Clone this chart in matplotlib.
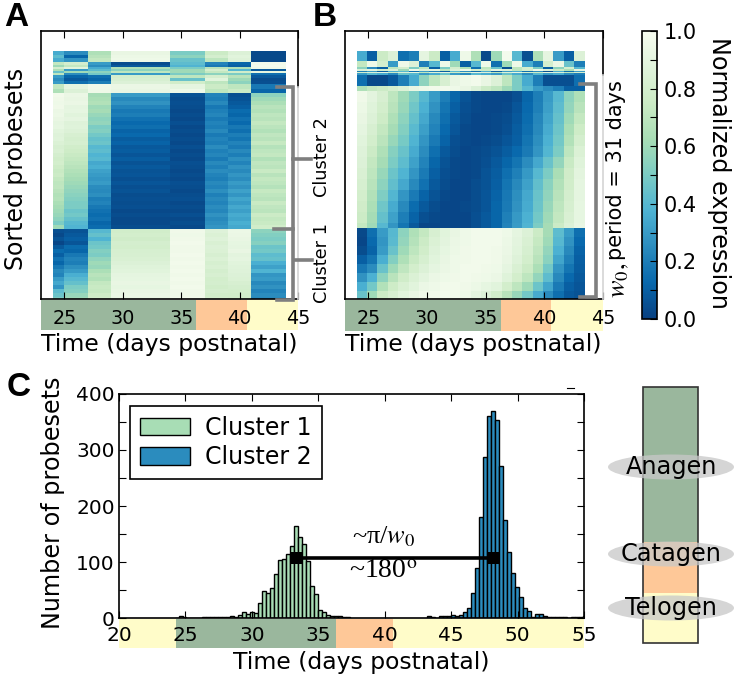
import numpy as np
import matplotlib
matplotlib.use('Agg')
import matplotlib.pyplot as plt
from matplotlib.patches import Ellipse, Rectangle

plt.rcParams['font.family'] = 'DejaVu Sans'
plt.rcParams['mathtext.fontset'] = 'stix'

W, H = 738, 682

# ---- heatmap A: 8 sampled time points, expression in percent
a_edges = [24, 25, 27, 29, 34, 37, 39, 41, 44]
a_heights = [4, 3, 4, 3, 2, 2, 2, 2, 2, 3, 3, 3, 5, 4] + [4] * 34 + [4] * 18
a_rows = [
    [35, 25, 65, 92, 50, 75, 85, 3],
    [42, 12, 68, 94, 55, 80, 88, 3],
    [35, 28, 72, 95, 45, 70, 86, 3],
    [72, 80, 30, 4, 42, 22, 12, 97],
    [60, 72, 25, 8, 38, 18, 10, 98],
    [80, 88, 35, 65, 50, 68, 65, 96],
    [65, 30, 42, 55, 60, 80, 40, 8],
    [45, 60, 55, 70, 60, 72, 78, 90],
    [70, 25, 48, 30, 50, 55, 50, 15],
    [30, 12, 15, 80, 70, 80, 68, 8],
    [25, 8, 12, 82, 45, 88, 60, 4],
    [30, 15, 20, 85, 78, 70, 55, 5],
    [72, 90, 96, 93, 90, 75, 70, 18],
    [65, 85, 95, 92, 95, 70, 75, 12],
    # cluster 2
    [97, 93, 62, 30, 6, 22, 5, 55],
    [96, 92, 64, 24, 4, 20, 6, 60],
    [95, 93, 66, 27, 5, 24, 8, 64],
    [96, 90, 60, 22, 4, 18, 10, 68],
    [93, 91, 62, 18, 3, 21, 14, 66],
    [94, 88, 58, 20, 4, 23, 12, 70],
    [92, 90, 55, 16, 3, 19, 16, 68],
    [90, 86, 57, 13, 5, 22, 13, 72],
    [91, 87, 50, 15, 3, 20, 18, 69],
    [88, 85, 52, 11, 4, 24, 15, 66],
    [86, 82, 48, 13, 3, 19, 20, 71],
    [87, 80, 44, 9, 4, 22, 17, 68],
    [84, 81, 46, 11, 3, 20, 22, 73],
    [82, 78, 40, 8, 5, 25, 19, 67],
    [83, 76, 42, 9, 3, 21, 24, 70],
    [80, 74, 38, 7, 4, 23, 20, 72],
    [78, 72, 40, 9, 3, 19, 26, 66],
    [79, 70, 34, 6, 5, 24, 22, 71],
    [76, 68, 36, 8, 4, 21, 27, 69],
    [74, 66, 32, 6, 3, 25, 24, 74],
    [75, 64, 30, 7, 4, 22, 28, 68],
    [72, 62, 28, 5, 3, 20, 25, 72],
    [70, 60, 30, 7, 5, 24, 30, 70],
    [71, 58, 25, 5, 4, 22, 27, 67],
    [68, 56, 24, 6, 3, 26, 32, 73],
    [66, 54, 26, 4, 4, 21, 28, 70],
    [67, 52, 20, 5, 5, 24, 33, 68],
    [64, 50, 22, 4, 3, 22, 30, 74],
    [62, 50, 18, 5, 4, 25, 34, 71],
    [60, 46, 16, 3, 3, 23, 31, 69],
    [58, 48, 14, 4, 5, 27, 35, 75],
    [55, 44, 16, 3, 3, 24, 33, 72],
    [50, 40, 12, 3, 4, 26, 36, 74],
    [60, 38, 14, 4, 3, 28, 34, 78],
    # cluster 1
    [5, 6, 40, 78, 96, 86, 94, 55],
    [3, 8, 44, 79, 95, 84, 93, 52],
    [6, 10, 38, 77, 96, 86, 92, 50],
    [2, 7, 46, 80, 97, 83, 91, 53],
    [8, 14, 48, 79, 96, 85, 90, 46],
    [14, 12, 52, 81, 96, 84, 92, 48],
    [10, 18, 50, 82, 97, 82, 89, 42],
    [16, 22, 56, 83, 96, 84, 90, 44],
    [12, 20, 60, 85, 97, 81, 88, 36],
    [18, 26, 58, 87, 96, 83, 87, 32],
    [24, 30, 64, 88, 97, 80, 86, 38],
    [22, 36, 68, 90, 96, 82, 85, 28],
    [30, 40, 66, 91, 97, 79, 84, 30],
    [34, 44, 72, 92, 96, 80, 82, 24],
    [28, 50, 74, 91, 97, 78, 80, 27],
    [42, 52, 73, 92, 96, 80, 79, 22],
    [46, 58, 76, 93, 96, 78, 78, 25],
    [50, 60, 78, 92, 97, 79, 78, 24],
]

# ---- heatmap B: 22 fitted time points
b_edges = [24 + 0.883 * i for i in range(23)]
b_heights = [10, 6, 2, 2, 1, 1, 2, 11, 5] + [11] * 12 + [5] + [9] * 8
b_rows = [
    [35, 10, 75, 85, 15, 20, 90, 75, 10, 35, 95, 65, 3, 60, 98, 40, 5, 65, 90, 30, 10, 85],
    [72, 95, 80, 30, 95, 85, 20, 40, 95, 60, 10, 40, 95, 15, 60, 95, 35, 20, 80, 93, 45, 20],
    [55, 25, 10, 70, 80, 50, 70, 10, 50, 80, 65, 15, 70, 45, 5, 70, 80, 50, 10, 55, 80, 40],
    [85, 90, 80, 85, 60, 95, 85, 90, 70, 85, 95, 80, 75, 90, 85, 70, 80, 95, 85, 75, 65, 90],
    [20, 30, 10, 35, 40, 15, 30, 20, 10, 40, 25, 15, 35, 10, 30, 35, 15, 25, 5, 35, 15, 30],
    [80, 85, 90, 75, 85, 90, 70, 85, 90, 75, 80, 90, 85, 70, 85, 90, 80, 75, 90, 85, 70, 80],
    [30, 40, 35, 25, 45, 40, 30, 35, 45, 30, 25, 40, 35, 30, 45, 35, 25, 40, 30, 35, 25, 20],
    [15, 3, 3, 8, 20, 35, 55, 70, 82, 92, 95, 97, 92, 85, 70, 50, 35, 20, 5, 5, 5, 15],
    [65, 72, 75, 80, 85, 92, 95, 97, 97, 95, 92, 85, 75, 70, 60, 50, 40, 30, 25, 20, 10, 10],
    # cluster 2
    [96, 89, 82, 70, 60, 50, 40, 30, 20, 12, 6, 3, 2, 2, 2, 5, 12, 20, 30, 40, 55, 65],
    [94, 87, 79, 68, 58, 47, 37, 27, 17, 10, 5, 3, 2, 2, 3, 7, 13, 21, 31, 42, 57, 68],
    [92, 85, 76, 65, 55, 44, 34, 24, 15, 8, 4, 2, 2, 3, 4, 8, 14, 23, 33, 44, 60, 72],
    [90, 82, 72, 62, 52, 41, 31, 22, 13, 7, 3, 2, 2, 3, 5, 9, 15, 24, 35, 46, 63, 76],
    [88, 79, 69, 58, 49, 38, 28, 19, 11, 5, 3, 2, 3, 4, 7, 10, 17, 26, 37, 48, 66, 80],
    [86, 75, 65, 53, 45, 35, 25, 15, 8, 4, 2, 3, 4, 6, 9, 13, 19, 28, 39, 50, 70, 84],
    [85, 72, 62, 50, 42, 32, 22, 12, 6, 3, 2, 3, 5, 8, 12, 17, 25, 34, 45, 57, 74, 87],
    [83, 70, 58, 46, 38, 28, 19, 10, 5, 3, 2, 3, 6, 9, 15, 21, 29, 40, 50, 63, 77, 89],
    [81, 68, 55, 43, 34, 24, 16, 8, 4, 2, 2, 4, 6, 10, 17, 24, 32, 43, 54, 66, 78, 90],
    [79, 66, 51, 39, 28, 19, 11, 6, 3, 2, 2, 4, 7, 11, 18, 26, 34, 45, 56, 68, 80, 90],
    [77, 64, 47, 35, 24, 14, 8, 4, 2, 2, 3, 4, 7, 12, 19, 27, 35, 46, 58, 70, 81, 91],
    [75, 62, 44, 32, 20, 11, 5, 3, 2, 2, 2, 5, 8, 12, 21, 29, 37, 48, 60, 72, 83, 91],
    [72, 60, 40, 28, 17, 8, 2, 2, 2, 2, 2, 5, 8, 12, 22, 30, 38, 50, 62, 75, 85, 92],
    # cluster 1
    [3, 15, 30, 40, 55, 65, 72, 82, 88, 92, 95, 97, 97, 97, 95, 90, 85, 75, 62, 42, 30, 15],
    [2, 13, 28, 41, 57, 67, 75, 84, 89, 93, 95, 97, 97, 97, 94, 89, 83, 73, 60, 40, 27, 13],
    [4, 11, 30, 45, 60, 70, 78, 86, 91, 94, 96, 97, 97, 96, 93, 88, 81, 71, 57, 37, 24, 11],
    [10, 17, 36, 52, 65, 74, 81, 88, 92, 95, 96, 97, 97, 96, 92, 86, 79, 68, 54, 33, 21, 10],
    [18, 25, 45, 60, 71, 79, 85, 90, 93, 95, 97, 97, 96, 95, 90, 83, 75, 64, 48, 28, 17, 9],
    [27, 37, 55, 68, 77, 84, 89, 93, 95, 96, 97, 96, 95, 93, 87, 79, 70, 57, 42, 24, 13, 8],
    [36, 48, 66, 76, 83, 88, 93, 95, 97, 97, 96, 94, 91, 88, 79, 70, 60, 46, 33, 19, 10, 7],
    [45, 60, 75, 82, 88, 92, 96, 97, 98, 97, 95, 90, 85, 78, 68, 58, 48, 35, 25, 15, 8, 6],
]

# ---- histogram C: 0.3 day bins
c1_first_bin = 24.18
cluster1 = [0, 3, 2, 0, 0, 0, 0, 2, 1, 1, 1, 2, 1, 2, 3, 2, 5, 10, 8, 10, 9, 27, 49, 45, 54, 79,
            104, 106, 115, 129, 164, 144, 132, 101, 58, 42, 14, 11, 6, 4, 3, 4, 2, 1]
c2_first_bin = 43.19
cluster2 = [3, 2, 0, 4, 4, 3, 6, 4, 5, 11, 18, 44, 89, 181, 287, 360, 370, 354, 272, 175, 117,
            81, 56, 38, 17, 12, 2, 8, 7, 4, 2, 1, 2, 1, 1, 0, 1, 2, 1, 3, 2]

# ---- hair cycle stages (days)
stage_days = [24.3, 36.3, 40.6]
stage_colors = {'anagen': '#9ab79d', 'catagen': '#fec898', 'telogen': '#fffcc9'}
time_ticks_ab = [25, 30, 35, 40, 45]
time_ticks_c = [20, 25, 30, 35, 40, 45, 50, 55]
count_ticks = [0, 100, 200, 300, 400]


def px_axes(x0, y0, x1, y1, **kw):
    return fig.add_axes([x0 / W, 1 - y1 / H, (x1 - x0) / W, (y1 - y0) / H], **kw)


def stage_strip(x0, y0, x1, y1, xmin, xmax, lead=False):
    ax = px_axes(x0, y0, x1, y1, zorder=1)
    ax.set_xlim(xmin, xmax)
    if lead:
        # panel C starts in the previous telogen
        ax.axvspan(xmin, stage_days[0], color=stage_colors['telogen'], lw=0)
        ax.axvspan(stage_days[0], stage_days[1], color=stage_colors['anagen'], lw=0)
    else:
        ax.axvspan(xmin, stage_days[1], color=stage_colors['anagen'], lw=0)
    ax.axvspan(stage_days[1], stage_days[2], color=stage_colors['catagen'], lw=0)
    ax.axvspan(stage_days[2], xmax, color=stage_colors['telogen'], lw=0)
    ax.axis('off')


def heat_panel(x0, x1, edges, heights, rows, cut_y):
    ax = px_axes(x0, 31, x1, 299, zorder=2)
    y_edges = np.concatenate([[0], np.cumsum(heights)])
    mesh = ax.pcolormesh(edges, y_edges, np.array(rows) / 100., cmap='GnBu_r',
                         vmin=0, vmax=1, rasterized=True)
    ax.set_xlim(23, 45)
    ax.set_ylim(248, -20)
    ax.set_yticks([])
    ax.set_xticks(time_ticks_ab)
    ax.tick_params(axis='x', direction='in', top=True, length=5, width=0.8, pad=7, labelsize=13.8)
    for s in ax.spines.values():
        s.set_linewidth(1.2)
    ax.spines['right'].set_visible(False)
    over.plot([x1, x1], [31, cut_y], color='k', lw=1.2)
    over.plot([x1, x1], [cut_y, 299], color='#d4d4d4', lw=1.2)
    return mesh


fig = plt.figure(figsize=(7.38, 6.82), dpi=100)

# overlay in pixel coordinates for brackets and labels
over = fig.add_axes([0, 0, 1, 1], zorder=5)
over.set_xlim(0, W)
over.set_ylim(H, 0)
over.axis('off')

stage_strip(41, 300, 298, 330, 23, 45)
stage_strip(345, 300, 603, 331, 23, 45)
stage_strip(119, 619, 584, 648, 20, 55, lead=True)

mesh = heat_panel(41, 298, a_edges, a_heights, a_rows, 87)
heat_panel(345, 603, b_edges, b_heights, b_rows, 75)

# colorbar
cax = px_axes(642, 31, 657, 319, zorder=2)
cb = fig.colorbar(mesh, cax=cax)
cb.set_ticks(np.arange(0, 1.01, 0.2))
cb.set_ticks(np.arange(0.1, 1, 0.2), minor=True)
cb.ax.tick_params(which='both', direction='in', right=True, length=5, width=0.8)
cb.ax.tick_params(which='major', labelsize=15, pad=5)
cb.outline.set_linewidth(1.2)

# histogram
ax_c = px_axes(119, 394, 584, 618, zorder=2)
ax_c.bar([c1_first_bin + 0.3 * i for i in range(len(cluster1))], cluster1, width=0.3, align='edge',
         color='#a8ddb5', edgecolor='k', linewidth=1.0, label='Cluster 1')
ax_c.bar([c2_first_bin + 0.3 * i for i in range(len(cluster2))], cluster2, width=0.3, align='edge',
         color='#2b8cbe', edgecolor='k', linewidth=1.0, label='Cluster 2')
ax_c.plot([33.4, 48.15], [108, 108], color='k', lw=2.6, marker='s', ms=8.5, mew=0)
ax_c.set_xlim(20, 55)
ax_c.set_ylim(0, 400)
ax_c.set_xticks(time_ticks_c)
ax_c.set_yticks(count_ticks)
ax_c.set_yticks([50, 150, 250, 350], minor=True)
ax_c.tick_params(axis='x', direction='in', top=True, length=5, width=0.8, pad=6, labelsize=14.5)
ax_c.tick_params(axis='y', which='both', direction='in', right=True, length=5, width=0.8, pad=3, labelsize=14.5)
for s in ax_c.spines.values():
    s.set_linewidth(1.2)
leg = ax_c.legend(loc='upper left', bbox_to_anchor=(0.0245, 0.946), borderaxespad=0,
                  fontsize=17, fancybox=False, edgecolor='k', framealpha=1, handlelength=2.1,
                  handleheight=0.75, handletextpad=0.65, labelspacing=0.22, borderpad=0.42)
leg.get_frame().set_linewidth(1.2)

# axis labels
label_font = 16.9
over.text(169, 345, 'Time (days postnatal)', ha='center', va='center', fontsize=label_font)
over.text(473, 345, 'Time (days postnatal)', ha='center', va='center', fontsize=label_font)
over.text(361, 663, 'Time (days postnatal)', ha='center', va='center', fontsize=label_font)
over.text(16, 169, 'Sorted probesets', rotation=90, ha='center', va='center', fontsize=17)
over.text(53, 503, 'Number of probesets', rotation=90, ha='center', va='center', fontsize=17.2)
over.text(719, 173, 'Normalized expression', rotation=270, ha='center', va='center', fontsize=17.2)

# panel letters
for letter, x, y in [('A', 16, 17), ('B', 325, 17), ('C', 19, 387)]:
    over.text(x, y, letter, ha='center', va='center', fontsize=24, fontweight='bold', family='Liberation Sans')

# brackets
gray = '#7f7f7f'
over.plot([277, 293, 293, 277], [87, 87, 300, 300], color=gray, lw=2.6, solid_joinstyle='miter')
over.plot([274, 293], [229, 229], color=gray, lw=2.6)
over.plot([293, 311], [159, 159], color=gray, lw=2.6)
over.plot([295, 312], [260, 260], color=gray, lw=2.6)
over.plot([580, 596, 596, 580], [84, 84, 297, 297], color=gray, lw=2.6, solid_joinstyle='miter')
over.text(322, 157, 'Cluster 2', rotation=90, ha='center', va='center', fontsize=12.8)
over.text(322, 263, 'Cluster 1', rotation=90, ha='center', va='center', fontsize=12.8)
over.text(616, 170, 'period = 31 days', rotation=90, ha='center', va='center', fontsize=15)
over.text(618, 280, r'$w_0,$', rotation=90, ha='center', va='center', fontsize=19)

# phase difference labels
over.text(384, 537, '~π/$w_0$', ha='center', va='center', fontsize=19, family='Liberation Serif')
over.text(383, 571, r'~180$^{\mathrm{o}}$', ha='center', va='center', fontsize=20, family='Liberation Serif')
over.plot([567, 574], [388, 388], color='k', lw=0.8)

# stage bar on the right
over.add_patch(Rectangle((643, 387), 55, 155, fc=stage_colors['anagen'], ec='none'))
over.add_patch(Rectangle((643, 542), 55, 51, fc=stage_colors['catagen'], ec='none'))
over.add_patch(Rectangle((643, 593), 55, 50, fc=stage_colors['telogen'], ec='none'))
over.add_patch(Rectangle((643, 387), 55, 256, fc='none', ec='#333333', lw=1.2))
for name, y in [('Anagen', 467), ('Catagen', 554), ('Telogen', 608)]:
    over.add_patch(Ellipse((671, y), 126, 25, fc='#c8c8c8', ec='none', alpha=0.75))
    over.text(671, y, name, ha='center', va='center', fontsize=17.3)

fig.savefig('out.png', dpi=100)
